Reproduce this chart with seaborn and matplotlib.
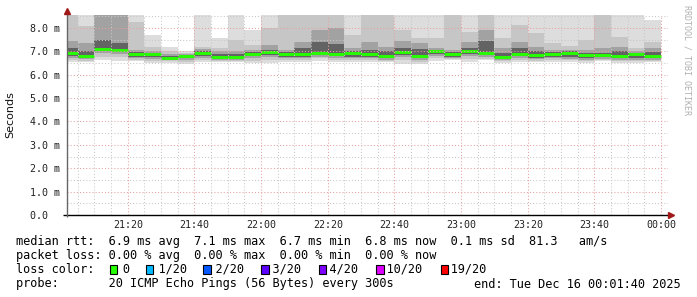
import numpy as np
import pandas as pd
import matplotlib
matplotlib.use("Agg")
import matplotlib.pyplot as plt
from matplotlib.patches import Rectangle
import seaborn as sns

# ---------------- data ----------------
# 5-minute bins (first bin is partial, starting at graph start 21:01:40)
graph_start = "21:01:40"
bin_starts = [graph_start] + [t.strftime("%H:%M") for t in pd.date_range("2025-12-15 21:05", "2025-12-15 23:55", freq="5min")]
graph_end = "00:00"

median_ms = [6.92, 6.82, 7.12, 7.07, 6.87, 6.87, 6.73, 6.79, 6.94, 6.76, 6.75, 6.90,
             6.99, 6.90, 6.90, 6.93, 6.90, 6.94, 6.90, 6.81, 6.98, 6.81, 7.03, 6.88,
             7.03, 6.94, 6.76, 6.90, 6.84, 6.90, 6.94, 6.84, 6.83, 6.82, 6.88, 6.79]

# smoke bands (sorted ping ranks, outer -> inner), values in ms
max_ms = [9.4, 9.2, 9.8, 9.6, 9.1, 7.70, 7.20, 7.03, 9.0, 7.56, 8.9, 7.92,
          9.3, 9.5, 9.7, 10.2, 9.9, 9.1, 9.6, 9.4, 9.0, 8.9, 8.8, 9.5,
          9.0, 9.8, 8.9, 9.2, 9.0, 8.8, 8.9, 9.0, 9.4, 8.9, 8.8, 8.35]
up2_ms = [9.0, 8.10, 9.2, 9.1, 8.27, 7.20, 7.00, 6.95, 7.20, 7.13, 7.50, 7.27,
          8.00, 8.9, 9.0, 9.1, 9.0, 7.70, 8.9, 8.8, 7.90, 7.56, 7.56, 8.9,
          7.84, 9.0, 7.56, 8.12, 7.77, 7.34, 7.24, 7.48, 8.8, 7.63, 7.13, 7.41]
up3_ms = [7.45, 7.35, 8.8, 8.7, 7.06, 7.00, 6.90, 6.90, 7.10, 7.00, 7.00, 7.06,
          7.27, 7.06, 7.40, 7.90, 8.00, 7.13, 7.40, 7.20, 7.45, 7.34, 7.13, 7.06,
          7.41, 7.90, 7.13, 7.40, 7.20, 7.06, 7.06, 7.06, 7.13, 7.20, 7.00, 7.13]
up4_ms = [7.15, 7.00, 7.50, 7.35, 6.98, 6.93, 6.82, 6.85, 7.02, 6.90, 6.88, 6.97,
          7.06, 6.98, 7.15, 7.40, 7.30, 7.02, 7.06, 7.00, 7.15, 7.10, 7.05, 6.98,
          7.13, 7.45, 6.92, 7.15, 7.00, 6.97, 7.00, 6.93, 6.95, 7.00, 6.93, 6.97]
lo4_ms = [6.80, 6.72, 7.02, 6.98, 6.76, 6.76, 6.68, 6.70, 6.80, 6.72, 6.70, 6.80,
          6.85, 6.78, 6.76, 6.85, 6.80, 6.78, 6.78, 6.70, 6.85, 6.74, 6.88, 6.78,
          6.90, 6.84, 6.72, 6.80, 6.72, 6.78, 6.75, 6.72, 6.74, 6.72, 6.72, 6.72]
lo3_ms = [6.72, 6.66, 6.92, 6.90, 6.70, 6.68, 6.63, 6.62, 6.72, 6.65, 6.64, 6.72,
          6.75, 6.70, 6.70, 6.78, 6.72, 6.70, 6.70, 6.64, 6.75, 6.65, 6.80, 6.72,
          6.80, 6.76, 6.64, 6.70, 6.66, 6.70, 6.68, 6.64, 6.68, 6.64, 6.65, 6.64]
lo2_ms = [6.64, 6.60, 6.78, 6.78, 6.64, 6.60, 6.58, 6.55, 6.64, 6.60, 6.60, 6.60,
          6.62, 6.62, 6.62, 6.70, 6.64, 6.62, 6.62, 6.60, 6.62, 6.55, 6.70, 6.66,
          6.66, 6.68, 6.57, 6.62, 6.60, 6.62, 6.62, 6.58, 6.62, 6.58, 6.57, 6.58]
min_ms = [6.56, 6.55, 6.62, 6.60, 6.58, 6.50, 6.52, 6.45, 6.56, 6.55, 6.55, 6.50,
          6.50, 6.55, 6.56, 6.60, 6.55, 6.55, 6.55, 6.55, 6.47, 6.45, 6.60, 6.62,
          6.56, 6.62, 6.50, 6.55, 6.55, 6.55, 6.55, 6.52, 6.58, 6.52, 6.50, 6.55]

y_ticks = [0, 1, 2, 3, 4, 5, 6, 7, 8]
y_tick_labels = ["0.0  ", "1.0 m", "2.0 m", "3.0 m", "4.0 m", "5.0 m", "6.0 m", "7.0 m", "8.0 m"]
x_tick_labels = ["21:20", "21:40", "22:00", "22:20", "22:40", "23:00", "23:20", "23:40", "00:00"]

loss_labels = ["0", "1/20", "2/20", "3/20", "4/20", "10/20", "19/20"]
loss_colors = ["#26ff00", "#00b8ff", "#0059ff", "#5e00ff", "#7e00ff", "#dd00ff", "#ff0000"]

stats_line = "median rtt:  6.9 ms avg  7.1 ms max  6.7 ms min  6.8 ms now  0.1 ms sd  81.3   am/s"
loss_line = "packet loss: 0.00 % avg  0.00 % max  0.00 % min  0.00 % now"
probe_line = "probe:       20 ICMP Echo Pings (56 Bytes) every 300s"
end_line = "end: Tue Dec 16 00:01:40 2025"

# ---------------- helpers ----------------
def to_min(s):
    parts = [int(p) for p in s.split(":")]
    while len(parts) < 3:
        parts.append(0)
    m = (parts[0] - 21) * 60 + parts[1] + parts[2] / 60.0
    if m <= 0:
        m += 24 * 60
    return m

starts = np.array([to_min(s) for s in bin_starts])
ends = np.append(starts[1:], to_min(graph_end))
widths = ends - starts

df = pd.DataFrame({"start": starts, "width": widths, "median": median_ms,
                   "u1": max_ms, "u2": up2_ms, "u3": up3_ms, "u4": up4_ms,
                   "l4": lo4_ms, "l3": lo3_ms, "l2": lo2_ms, "l1": min_ms})

# ---------------- figure ----------------
sns.set_theme(style="white")
plt.rcParams["font.family"] = ["DejaVu Sans Mono", "DejaVu Sans"]

W, H = 697, 297
fig = plt.figure(figsize=(W / 100, H / 100), dpi=100, facecolor="white")
ax_l, ax_r, ax_t, ax_b = 66.7, 668.0, 15.0, 215.0
ax = fig.add_axes([ax_l / W, 1 - ax_b / H, (ax_r - ax_l) / W, (ax_b - ax_t) / H])
ax.set_facecolor("white")

x0 = starts[0]
x1 = x0 + (ax_r - ax_l) / (200.0 / 60.0)
ax.set_xlim(x0, x1)
ax.set_ylim(0, 8.556)

band_colors = ["#dddddd", "#c6c6c6", "#a2a2a2", "#636363"]
bands = [("l1", "u1"), ("l2", "u2"), ("l3", "u3"), ("l4", "u4")]
for (lo, hi), col in zip(bands, band_colors):
    ax.bar(df["start"], df[hi] - df[lo], bottom=df[lo], width=df["width"],
           align="edge", color=col, linewidth=0, zorder=1)

ax.hlines(df["median"], df["start"], df["start"] + df["width"], colors="#26ff00",
          linewidth=2.1, zorder=3, capstyle="butt")

# grid (drawn on top like rrdtool)
dot = (0, (1, 2))
for v in np.arange(0.5, 8.6, 0.5):
    major = abs(v - round(v)) < 1e-6
    ax.axhline(v, color="#e8a0a0" if major else "#c8c8c8", lw=0.75, ls=dot, zorder=4)
for m in np.arange(5, x1, 5):
    major = (m % 20) == 0
    ax.axvline(m, color="#e8a0a0" if major else "#c8c8c8", lw=0.75, ls=dot, zorder=4)

for s in ax.spines.values():
    s.set_visible(False)

ax.set_yticks(y_ticks)
ax.set_yticklabels(y_tick_labels)
ax.set_xticks(np.arange(20, 181, 20))
ax.set_xticklabels(x_tick_labels)
ax.tick_params(axis="y", length=0, pad=4.8, labelsize=7.2, labelcolor="#222222")
ax.tick_params(axis="x", length=0, pad=3.5, labelsize=7.2, labelcolor="#222222")
for lab in ax.get_yticklabels() + ax.get_xticklabels():
    lab.set_fontfamily(["DejaVu Sans Mono"])

# axes lines and arrows
tr = ax.transAxes
ax.plot([-4.0 / (ax_r - ax_l), (670 - ax_l) / (ax_r - ax_l)], [0, 0], color="#000000",
        lw=1.0, transform=tr, clip_on=False, zorder=6, solid_capstyle="butt")
ax.plot([0, 0], [-2.0 / 200, (215 - 12) / 200.0], color="#666666", lw=1.0,
        transform=tr, clip_on=False, zorder=6, solid_capstyle="butt")
ax.plot([(671 - ax_l) / (ax_r - ax_l)], [0], marker=">", ms=4.5, color="#a01818",
        mec="#a01818", transform=tr, clip_on=False, zorder=7)
ax.plot([0], [(215 - 10.5) / 200.0], marker="^", ms=4.5, color="#a01818",
        mec="#a01818", transform=tr, clip_on=False, zorder=7)

fig.text(10 / W, 1 - 115 / H, "Seconds", rotation=90, ha="center", va="center",
         fontsize=8, family=["DejaVu Sans"], color="#111111")
fig.text(686.5 / W, 1 - 5 / H, "RRDTOOL / TOBI OETIKER", rotation=270, ha="center",
         va="top", fontsize=6.0, family=["DejaVu Sans Mono"], color="#b0b0b0")

# legend text
fs = 8.6
cw = 0.6021 * fs * 100 / 72.0  # monospace char width in px
tx = 16.0
rows_y = [241, 256, 269.5, 284]

def put(x, y, s, ha="left"):
    fig.text(x / W, 1 - y / H, s, ha=ha, va="center", fontsize=fs,
             family=["DejaVu Sans Mono"], color="#000000")

put(tx, rows_y[0], stats_line)
put(tx, rows_y[1], loss_line)
row = "loss color:  "
squares = []
for lab, col in zip(loss_labels, loss_colors):
    squares.append((len(row), col))
    row += "  " + lab + "  "
put(tx, rows_y[2], row.rstrip())
for ci, col in squares:
    sx = tx + ci * cw + 0.5
    sq_w, sq_h = 7.5, 8.5
    fig.patches.append(Rectangle((sx / W, 1 - (rows_y[2] + sq_h / 2) / H), sq_w / W, sq_h / H,
                                 transform=fig.transFigure, facecolor=col, edgecolor="#000000",
                                 linewidth=0.8, figure=fig))
put(tx, rows_y[3], probe_line)
put(681, rows_y[3], end_line, ha="right")

fig.savefig("out.png", dpi=100, facecolor="white")
